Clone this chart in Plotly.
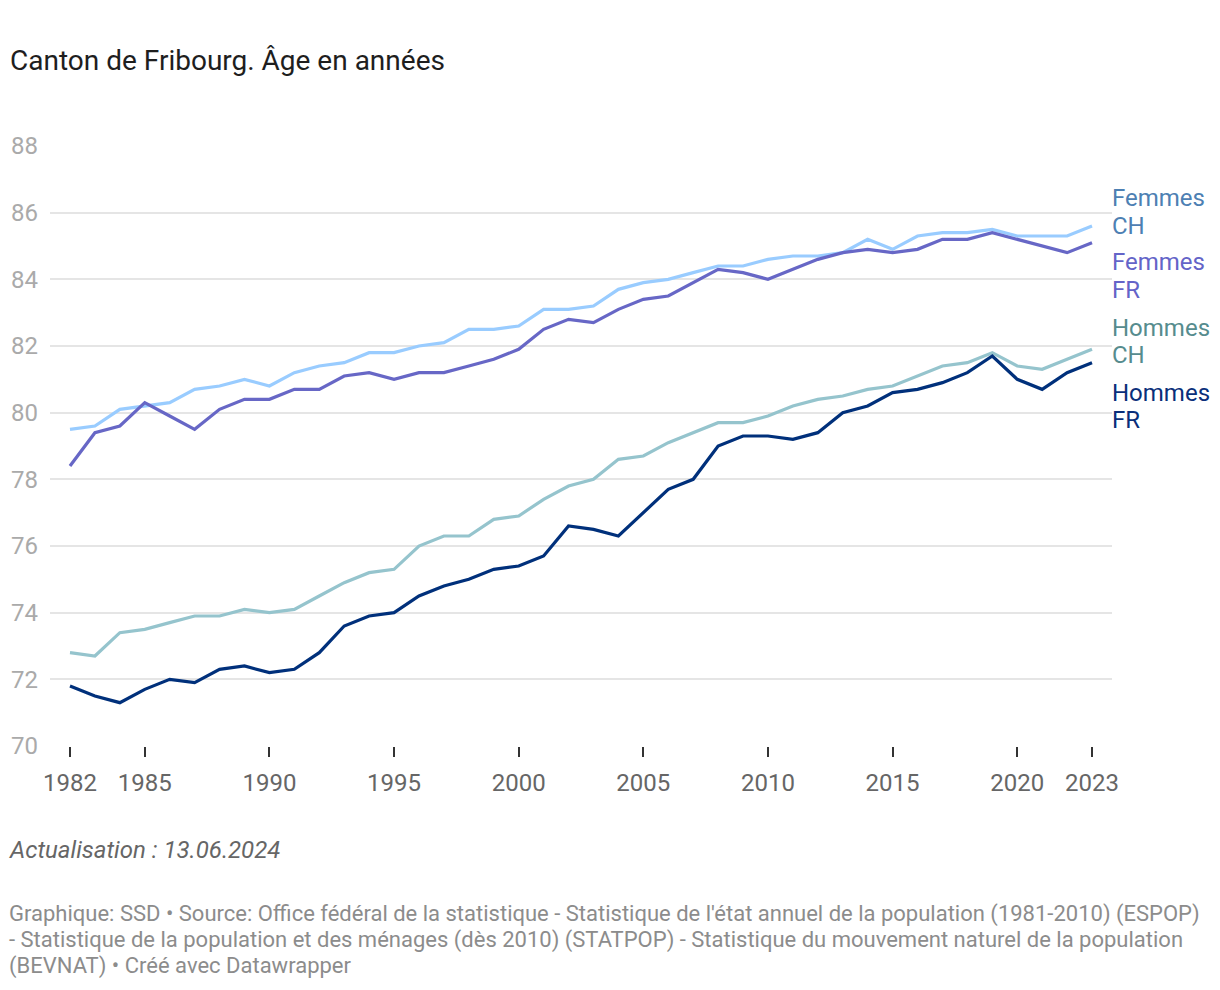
import plotly.graph_objects as go

years = list(range(1982, 2024))

femmes_ch = [79.5, 79.6, 80.1, 80.2, 80.3, 80.7, 80.8, 81.0, 80.8, 81.2,
             81.4, 81.5, 81.8, 81.8, 82.0, 82.1, 82.5, 82.5, 82.6, 83.1,
             83.1, 83.2, 83.7, 83.9, 84.0, 84.2, 84.4, 84.4, 84.6, 84.7,
             84.7, 84.8, 85.2, 84.9, 85.3, 85.4, 85.4, 85.5, 85.3, 85.3,
             85.3, 85.6]
femmes_fr = [78.4, 79.4, 79.6, 80.3, 79.9, 79.5, 80.1, 80.4, 80.4, 80.7,
             80.7, 81.1, 81.2, 81.0, 81.2, 81.2, 81.4, 81.6, 81.9, 82.5,
             82.8, 82.7, 83.1, 83.4, 83.5, 83.9, 84.3, 84.2, 84.0, 84.3,
             84.6, 84.8, 84.9, 84.8, 84.9, 85.2, 85.2, 85.4, 85.2, 85.0,
             84.8, 85.1]
hommes_ch = [72.8, 72.7, 73.4, 73.5, 73.7, 73.9, 73.9, 74.1, 74.0, 74.1,
             74.5, 74.9, 75.2, 75.3, 76.0, 76.3, 76.3, 76.8, 76.9, 77.4,
             77.8, 78.0, 78.6, 78.7, 79.1, 79.4, 79.7, 79.7, 79.9, 80.2,
             80.4, 80.5, 80.7, 80.8, 81.1, 81.4, 81.5, 81.8, 81.4, 81.3,
             81.6, 81.9]
hommes_fr = [71.8, 71.5, 71.3, 71.7, 72.0, 71.9, 72.3, 72.4, 72.2, 72.3,
             72.8, 73.6, 73.9, 74.0, 74.5, 74.8, 75.0, 75.3, 75.4, 75.7,
             76.6, 76.5, 76.3, 77.0, 77.7, 78.0, 79.0, 79.3, 79.3, 79.2,
             79.4, 80.0, 80.2, 80.6, 80.7, 80.9, 81.2, 81.7, 81.0, 80.7,
             81.2, 81.5]

x_tickvals = [1982, 1985, 1990, 1995, 2000, 2005, 2010, 2015, 2020, 2023]
y_tickvals = [70, 72, 74, 76, 78, 80, 82, 84, 86, 88]

title_text = "Canton de Fribourg. Âge en années"
update_text = "Actualisation : 13.06.2024"
source_lines = [
    "Graphique: SSD • Source: Office fédéral de la statistique - Statistique de l'état annuel de la population (1981-2010) (ESPOP)",
    "- Statistique de la population et des ménages (dès 2010) (STATPOP) - Statistique du mouvement naturel de la population",
    "(BEVNAT) • Créé avec Datawrapper",
]

# name, label lines, values, line colour, label colour, pixel offsets of label lines
series = [
    ("Femmes CH", ["Femmes", "CH"], femmes_ch, "#99ccff", "#4d80b3", (28, 0)),
    ("Hommes CH", ["Hommes", "CH"], hommes_ch, "#95c4cd", "#568c8e", (21, -6)),
    ("Femmes FR", ["Femmes", "FR"], femmes_fr, "#6767c6", "#6464c8", (-19, -47)),
    ("Hommes FR", ["Hommes", "FR"], hommes_fr, "#00307b", "#0a2f7a", (-30, -57)),
]

FONT = "Roboto"
fig = go.Figure()
annotations = []
for name, label, vals, color, lcolor, shifts in series:
    fig.add_trace(go.Scatter(x=years, y=vals, mode="lines", name=name,
                             line=dict(color=color, width=3.2),
                             hoverinfo="skip"))
    for txt, ys in zip(label, shifts):
        annotations.append(dict(x=years[-1], y=vals[-1], xref="x", yref="y",
                                text=txt, showarrow=False, xanchor="left",
                                yanchor="middle", align="left", xshift=18,
                                yshift=ys,
                                font=dict(family=FONT, size=24, color=lcolor)))

PLOT_H = 600.0
PLOT_W = 1062.0
def px_y(py):
    return (746 - py) / PLOT_H
x_left = (7 - 50) / PLOT_W

annotations.append(dict(x=x_left, y=px_y(850), xref="paper", yref="paper",
                        text="<i>" + update_text + "</i>", showarrow=False,
                        xanchor="left", yanchor="middle", align="left",
                        font=dict(family=FONT, size=24, color="#666666")))
for i, line in enumerate(source_lines):
    annotations.append(dict(x=x_left, y=px_y(914 + 26 * i), xref="paper", yref="paper",
                            text=line, showarrow=False, xanchor="left",
                            yanchor="middle", align="left",
                            font=dict(family=FONT, size=22, color="#8c8c8c")))

fig.update_layout(
    width=1220, height=990,
    margin=dict(l=50, r=108, t=146, b=244),
    paper_bgcolor="white", plot_bgcolor="white",
    showlegend=False,
    title=dict(text=title_text, xref="container", yref="container",
               x=10 / 1220, y=1 - 60 / 990, xanchor="left", yanchor="middle",
               font=dict(family=FONT, size=28, color="#1e1e1e")),
    annotations=annotations,
    hovermode=False,
)
fig.update_xaxes(range=[1981.198, 2023.802], tickvals=x_tickvals,
                 ticktext=[str(v) for v in x_tickvals],
                 showgrid=False, zeroline=False, showline=False,
                 ticks="outside", ticklen=10, tickwidth=2, tickcolor="#333333",
                 ticklabelstandoff=5,
                 tickfont=dict(family=FONT, size=24, color="#666666"))
fig.update_yaxes(range=[70, 88], tickvals=y_tickvals,
                 showgrid=True, gridcolor="#e5e5e5", gridwidth=1.5,
                 zeroline=False, showline=False, ticks="",
                 ticklabelstandoff=11,
                 tickfont=dict(family=FONT, size=24, color="#aaaaaa"))

fig.write_html("out.html", config={"displayModeBar": False},
               post_script="document.body.style.margin='0';")
